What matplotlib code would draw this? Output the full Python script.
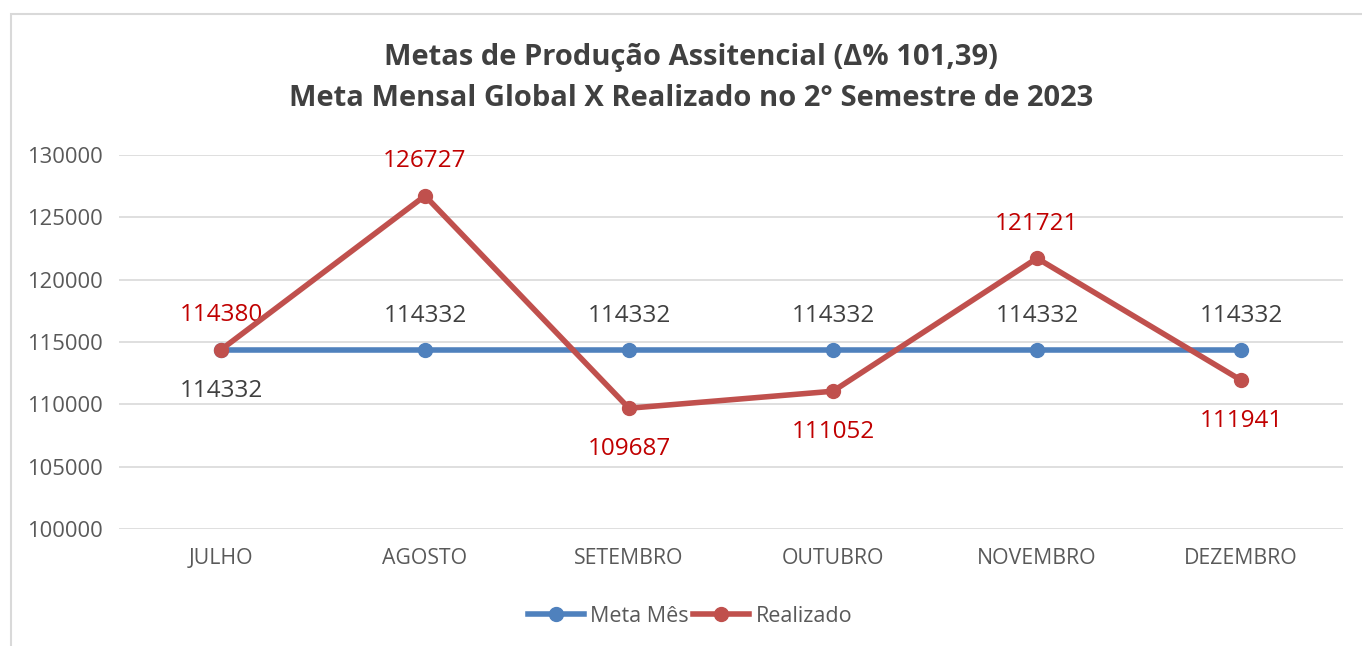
import matplotlib.pyplot as plt
from matplotlib.patches import Rectangle

plt.rcParams['font.family'] = ['Open Sans', 'DejaVu Sans']

meses = ['JULHO', 'AGOSTO', 'SETEMBRO', 'OUTUBRO', 'NOVEMBRO', 'DEZEMBRO']
meta = [114332, 114332, 114332, 114332, 114332, 114332]
realizado = [114380, 126727, 109687, 111052, 121721, 111941]
# label placement: +1 above the point, -1 below
meta_pos = [-1, 1, 1, 1, 1, 1]
real_pos = [1, 1, -1, -1, 1, -1]

azul = '#4F81BD'
vermelho = '#C0504D'

fig = plt.figure(figsize=(13.62, 6.46), dpi=100)
fig.patches.append(Rectangle((11 / 1362, -0.1), 1.2, 1 - 14 / 646 + 0.1,
                             transform=fig.transFigure, fill=False,
                             edgecolor='#D9D9D9', lw=1.5))
ax = fig.add_axes([119 / 1362, 1 - 529 / 646, (1343 - 119) / 1362, (529 - 155) / 646])

x = range(len(meses))
ax.plot(x, meta, color=azul, lw=4, marker='o', ms=10, label='Meta Mês', zorder=3)
ax.plot(x, realizado, color=vermelho, lw=4, marker='o', ms=10, label='Realizado', zorder=4)

for i in x:
    ax.annotate(str(meta[i]), (i, meta[i]), xytext=(0, 27 * meta_pos[i] - 2.2),
                textcoords='offset points', ha='center', va='center',
                fontsize=17.5, color='#404040')
    ax.annotate(str(realizado[i]), (i, realizado[i]), xytext=(0, 27 * real_pos[i] - 2.2),
                textcoords='offset points', ha='center', va='center',
                fontsize=17.5, color='#C00000')

ax.set_xlim(-0.5, len(meses) - 0.5)
ax.set_ylim(100000, 130000)
ax.set_yticks(range(100000, 130001, 5000))
ax.set_xticks(list(x))
ax.set_xticklabels(meses)
ax.tick_params(length=0, labelcolor='#595959')
ax.tick_params(axis='x', pad=14, labelsize=15.3)
ax.tick_params(axis='y', pad=12, labelsize=15.8)
ax.grid(axis='y', color='#D9D9D9', lw=1.2)
ax.set_axisbelow(True)
for s in ax.spines.values():
    s.set_visible(False)

fig.text(691 / 1362, 1 - 57 / 646, 'Metas de Produção Assitencial (Δ% 101,39)',
         ha='center', va='center', fontsize=21, fontweight='bold', color='#404040')
fig.text(691 / 1362, 1 - 98 / 646, 'Meta Mensal Global X Realizado no 2° Semestre de 2023',
         ha='center', va='center', fontsize=21, fontweight='bold', color='#404040')

fig.legend(loc='center', bbox_to_anchor=(690 / 1362, 1 - 616 / 646), ncol=2,
           frameon=False, fontsize=15.5, labelcolor='#595959', handlelength=2.6,
           handletextpad=0.3, columnspacing=0.2)

fig.savefig('out.png', dpi=100)
